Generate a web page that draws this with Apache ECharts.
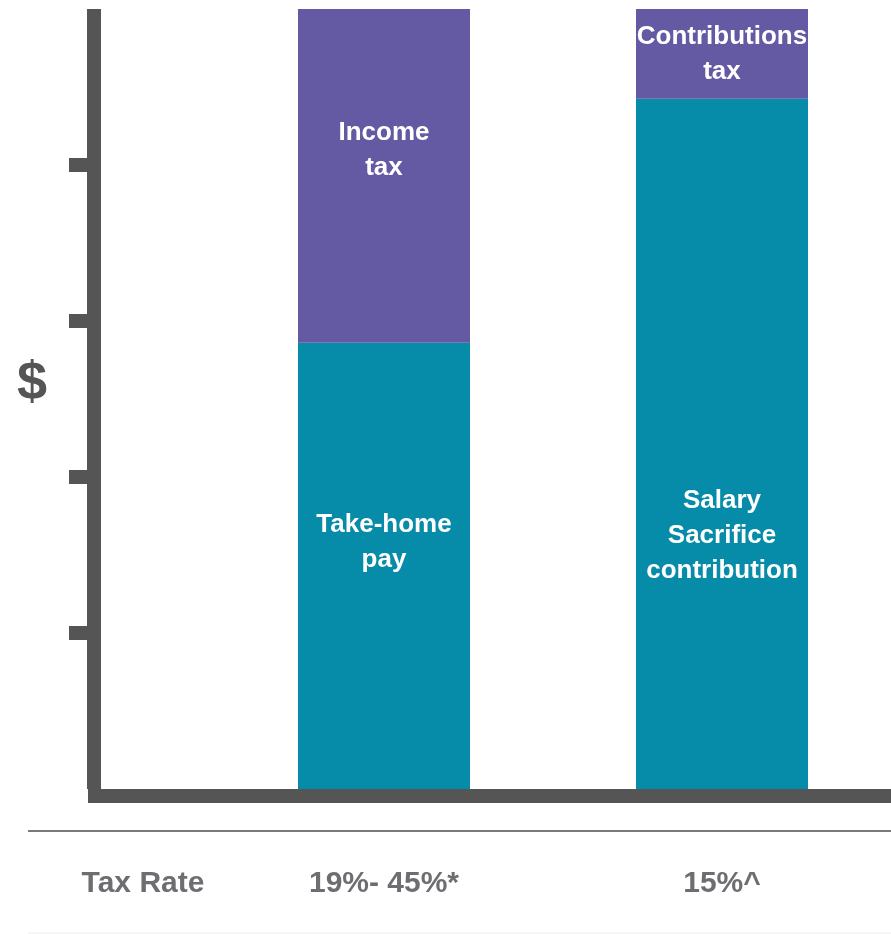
<!DOCTYPE html>
<html>
<head>
<meta charset="utf-8">
<script src="https://cdn.jsdelivr.net/npm/echarts@6/dist/echarts.min.js"></script>
<style>
  html, body { margin: 0; padding: 0; background: #fff; }
  #chart { width: 891px; height: 934px; }
</style>
</head>
<body>
<div id="chart"></div>
<script>
// categories shown under the bars
const taxRates = ['19%- 45%*', '15%^']
// share of pre-tax salary (bar height, percent)
const keptShare = [57.2, 88.5]
const taxShare = [42.8, 11.5]
const keptNames = ['Take-home\npay', 'Salary\nSacrifice\ncontribution']
const taxNames = ['Income\ntax', 'Contributions\ntax']
const yTicks = [20, 40, 60, 80]

const axisColor = '#555555'
const textGrey = '#6e6d72'
const font = '"Liberation Sans", Arial, sans-serif'

const keptOffsets = [[0, -24], [0, 92]]
const taxOffsets = [[0, -26], [0, 0]]

const chart = echarts.init(document.getElementById('chart'))

const barLabel = {
  show: true,
  position: 'inside',
  color: '#fff',
  fontFamily: font,
  fontWeight: 'bold',
  fontSize: 26,
  lineHeight: 35,
  align: 'center'
}

const option = {
  animation: false,
  grid: [
    { left: 215, right: 0, top: 9, bottom: 145 },
    { left: 88, right: 0, top: 10, bottom: 138 }
  ],
  xAxis: [
    {
      type: 'category',
      gridIndex: 0,
      data: taxRates,
      axisLine: { show: false },
      axisTick: { show: false },
      axisLabel: {
        margin: 80,
        color: textGrey,
        fontFamily: font,
        fontWeight: 'bold',
        fontSize: 30
      }
    },
    {
      type: 'category',
      gridIndex: 1,
      data: [],
      axisLine: { show: true, lineStyle: { color: axisColor, width: 14, cap: 'butt' } },
      axisTick: { show: false },
      axisLabel: { show: false }
    }
  ],
  yAxis: [
    {
      type: 'value',
      gridIndex: 0,
      min: 0,
      max: 100,
      interval: 20,
      offset: 121,
      axisLine: { show: true, lineStyle: { color: axisColor, width: 14, cap: 'butt' } },
      axisTick: {
        show: true,
        customValues: yTicks,
        length: 25,
        lineStyle: { color: axisColor, width: 14, cap: 'butt' }
      },
      axisLabel: { show: false },
      splitLine: { show: false }
    },
    { type: 'value', gridIndex: 1, show: false }
  ],
  graphic: [
    {
      type: 'line',
      shape: { x1: 28, y1: 831, x2: 891, y2: 831 },
      style: { stroke: '#7a7a7a', lineWidth: 2 }
    },
    {
      type: 'line',
      shape: { x1: 28, y1: 933, x2: 891, y2: 933 },
      style: { stroke: '#eeeeee', lineWidth: 1 }
    },
    {
      type: 'text',
      x: 143,
      y: 884,
      style: {
        text: 'Tax Rate',
        fill: textGrey,
        font: 'bold 30px ' + font,
        textAlign: 'center',
        textVerticalAlign: 'middle'
      }
    },
    {
      type: 'text',
      x: 32,
      y: 384,
      style: {
        text: '$',
        fill: axisColor,
        font: 'bold 54px ' + font,
        textAlign: 'center',
        textVerticalAlign: 'middle'
      }
    }
  ],
  series: [
    {
      name: 'kept',
      type: 'bar',
      stack: 'pay',
      barWidth: 172,
      itemStyle: { color: '#068ba8' },
      data: keptShare.map((v, i) => ({
        value: v,
        label: { ...barLabel, formatter: keptNames[i], offset: keptOffsets[i] }
      }))
    },
    {
      name: 'tax',
      type: 'bar',
      stack: 'pay',
      barWidth: 172,
      itemStyle: { color: '#6459a3' },
      data: taxShare.map((v, i) => ({
        value: v,
        label: { ...barLabel, formatter: taxNames[i], offset: taxOffsets[i] }
      }))
    }
  ]
}

chart.setOption(option)
</script>
</body>
</html>
